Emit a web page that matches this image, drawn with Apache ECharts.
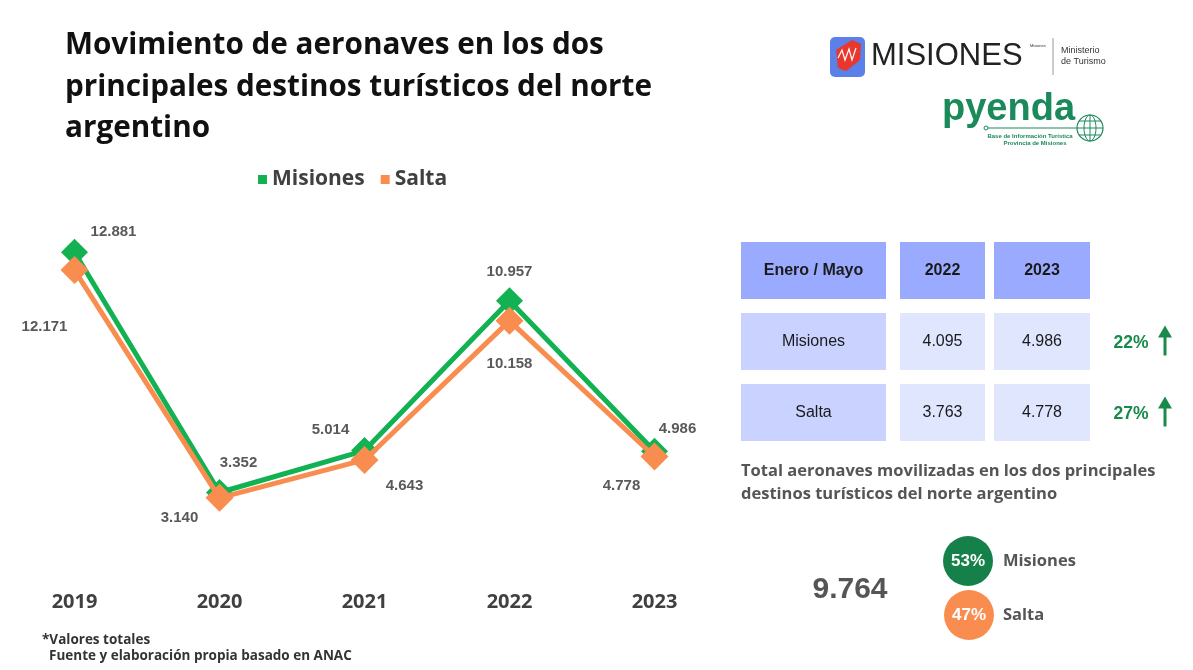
<!DOCTYPE html>
<html>
<head>
<meta charset="utf-8">
<script src="https://cdn.jsdelivr.net/npm/echarts@6/dist/echarts.min.js"></script>
<style>
html,body{margin:0;padding:0;background:#fff;}
#c{width:1193px;height:670px;}
</style>
</head>
<body>
<div id="c"></div>
<script>
// ---- data ----
const years = ['2019', '2020', '2021', '2022', '2023'];
const misiones = [12881, 3352, 5014, 10957, 4986];
const salta = [12171, 3140, 4643, 10158, 4778];
const tableHeader = ['Enero / Mayo', '2022', '2023'];
const tableRows = ['Misiones', 'Salta'];
const table2022 = [4095, 3763];
const table2023 = [4986, 4778];
const tableChange = ['22%', '27%'];
const totalValue = 9764;
const shareLabels = ['Misiones', 'Salta'];
const shareValues = ['53%', '47%'];

// ---- layout (not data) ----
const misionesOffsets = [[39,-20],[19,-30],[-34,-21],[0,-29],[23,-22]];
const saltaOffsets = [[-30,57],[-40,20],[40,26],[0,43],[-33,29]];
const GREEN = '#12B253';
const ORANGE = '#F98D4F';
const DARK = '#404040';

function fmt(v){ return String(v).replace(/\B(?=(\d{3})+(?!\d))/g, '.'); }

const chart = echarts.init(document.getElementById('c'));

function labelled(values, offsets){
  return values.map((v,i)=>({value:v, label:{offset:offsets[i]}}));
}

const graphics = [];
// title
['Movimiento de aeronaves en los dos','principales destinos turísticos del norte','argentino'].forEach((t,i)=>{
  graphics.push({type:'text', left:65, top:31+i*41.5, style:{text:t, font:'bold 29.7px "Open Sans"', fill:'#111'}});
});
// footnote
graphics.push({type:'text', left:42, top:633, style:{text:'*Valores totales', font:'bold 13.5px "Open Sans"', fill:'#333'}});
graphics.push({type:'text', left:49, top:649, style:{text:'Fuente y elaboración propia basado en ANAC', font:'bold 13.5px "Open Sans"', fill:'#333'}});

// table
const colX = [741, 900, 994];
const colW = [145, 85, 96];
const rowY = [242, 313, 384];
const rowH = 57;
tableHeader.forEach((h,c)=>{
  graphics.push({type:'rect', shape:{x:colX[c], y:rowY[0], width:colW[c], height:rowH}, style:{fill:'#9AABFF'}});
  graphics.push({type:'text', x:colX[c]+colW[c]/2, y:rowY[0]+rowH/2, style:{text:h, font:'bold 16px "Liberation Sans"', fill:'#1a1a1a', align:'center', verticalAlign:'middle'}});
});
tableRows.forEach((r,i)=>{
  const y = rowY[i+1];
  const cells = [r, fmt(table2022[i]), fmt(table2023[i])];
  cells.forEach((t,c)=>{
    graphics.push({type:'rect', shape:{x:colX[c], y:y, width:colW[c], height:rowH}, style:{fill: c===0 ? '#CAD3FF' : '#E1E6FF'}});
    graphics.push({type:'text', x:colX[c]+colW[c]/2, y:y+rowH/2, style:{text:t, font:'16px "Liberation Sans"', fill:'#1a1a1a', align:'center', verticalAlign:'middle'}});
  });
  graphics.push({type:'text', x:1131, y:y+rowH/2+2, style:{text:tableChange[i], font:'bold 17.5px "Liberation Sans"', fill:'#188A4A', align:'center', verticalAlign:'middle'}});
  // arrow
  const ay = y + rowH/2;
  graphics.push({type:'line', shape:{x1:1165, y1:ay-6, x2:1165, y2:ay+14}, style:{stroke:'#188A4A', lineWidth:3}});
  graphics.push({type:'polygon', shape:{points:[[1165,ay-16],[1158,ay-4],[1172,ay-4]]}, style:{fill:'#188A4A'}});
});

// total text
graphics.push({type:'text', left:741, top:463, style:{text:'Total aeronaves movilizadas en los dos principales', font:'bold 16.5px "Open Sans"', fill:'#555'}});
graphics.push({type:'text', left:741, top:486, style:{text:'destinos turísticos del norte argentino', font:'bold 16.5px "Open Sans"', fill:'#555'}});
graphics.push({type:'text', x:850, y:590, style:{text:fmt(totalValue), font:'bold 30px "Liberation Sans"', fill:'#555', align:'center', verticalAlign:'middle'}});
const circ = [[968,561,'#15804A'],[969,615,ORANGE]];
shareLabels.forEach((l,i)=>{
  const [cx,cy,col] = circ[i];
  graphics.push({type:'circle', shape:{cx:cx, cy:cy, r:25}, style:{fill:col}});
  graphics.push({type:'text', x:cx, y:cy, style:{text:shareValues[i], font:'bold 17px "Liberation Sans"', fill:'#fff', align:'center', verticalAlign:'middle'}});
  graphics.push({type:'text', x:1003, y:cy, style:{text:l, font:'bold 16.5px "Open Sans"', fill:'#555', verticalAlign:'middle'}});
});

// logos (approximations)
graphics.push({type:'rect', shape:{x:830, y:37, width:35, height:40, r:5}, style:{fill:'#5B80E8'}});
graphics.push({type:'polygon', shape:{points:[[836,50],[852,40],[861,44],[860,60],[846,71],[838,68]]}, style:{fill:'#E8372C'}});
graphics.push({type:'polyline', shape:{points:[[838,58],[842,50],[845,60],[849,49],[852,60],[856,48]]}, style:{stroke:'#fff', lineWidth:1.2, fill:null}});
graphics.push({type:'text', left:871, top:41, style:{text:'MISIONES', font:'31px "Liberation Sans"', fill:'#222'}});
graphics.push({type:'text', left:1030, top:44, style:{text:'Misiones', font:'4px "Liberation Sans"', fill:'#333'}});
graphics.push({type:'line', shape:{x1:1053, y1:38, x2:1053, y2:75}, style:{stroke:'#999', lineWidth:1}});
graphics.push({type:'text', left:1061, top:45, style:{text:'Ministerio\nde Turismo', font:'9px "Liberation Sans"', fill:'#333', lineHeight:11}});
graphics.push({type:'text', left:942, top:91, style:{text:'pyenda', font:'bold 38px "Liberation Sans"', fill:'#1A8A5A'}});
graphics.push({type:'line', shape:{x1:986, y1:128, x2:1077, y2:128}, style:{stroke:'#1A8A5A', lineWidth:1}});
graphics.push({type:'circle', shape:{cx:986, cy:128, r:2}, style:{fill:'#fff', stroke:'#1A8A5A', lineWidth:1}});
graphics.push({type:'circle', shape:{cx:1090, cy:128, r:13}, style:{fill:'none', stroke:'#1A8A5A', lineWidth:1.2}});
graphics.push({type:'ellipse', shape:{cx:1090, cy:128, rx:6, ry:13}, style:{fill:'none', stroke:'#1A8A5A', lineWidth:1}});
graphics.push({type:'line', shape:{x1:1077, y1:128, x2:1103, y2:128}, style:{stroke:'#1A8A5A', lineWidth:1}});
graphics.push({type:'line', shape:{x1:1079, y1:121, x2:1101, y2:121}, style:{stroke:'#1A8A5A', lineWidth:1}});
graphics.push({type:'line', shape:{x1:1079, y1:135, x2:1101, y2:135}, style:{stroke:'#1A8A5A', lineWidth:1}});
graphics.push({type:'line', shape:{x1:1090, y1:115, x2:1090, y2:141}, style:{stroke:'#1A8A5A', lineWidth:1}});
graphics.push({type:'text', x:1030, y:136, style:{text:'Base de Información Turística', font:'bold 6px "Liberation Sans"', fill:'#1A8A5A', align:'center', verticalAlign:'middle'}});
graphics.push({type:'text', x:1035, y:143, style:{text:'Provincia de Misiones', font:'bold 6px "Liberation Sans"', fill:'#1A8A5A', align:'center', verticalAlign:'middle'}});

const labelBase = {show:true, position:'inside', align:'center', verticalAlign:'middle',
  formatter: p => fmt(p.value), fontFamily:'Liberation Sans', fontWeight:'bold', fontSize:15, color:'#595959'};

chart.setOption({
  animation:false,
  backgroundColor:'#fff',
  legend:{
    left:253, top:164, icon:'rect', itemWidth:9, itemHeight:9, itemGap:16,
    textStyle:{fontFamily:'Open Sans', fontWeight:'bold', fontSize:21, color:DARK},
    data:['Misiones','Salta']
  },
  grid:{left:2, width:725, top:224, bottom:93},
  xAxis:{
    type:'category', data:years, boundaryGap:true,
    axisLine:{show:false}, axisTick:{show:false},
    axisLabel:{margin:15, fontFamily:'Open Sans', fontWeight:'bold', fontSize:20, color:DARK}
  },
  yAxis:{type:'value', min:0, max:14000, show:false, splitLine:{show:false}},
  series:[
    {name:'Misiones', type:'line', data:labelled(misiones, misionesOffsets), symbol:'diamond', symbolSize:27,
      lineStyle:{width:5, color:GREEN}, itemStyle:{color:GREEN}, label:labelBase, z:2},
    {name:'Salta', type:'line', data:labelled(salta, saltaOffsets), symbol:'diamond', symbolSize:28,
      lineStyle:{width:5, color:ORANGE}, itemStyle:{color:ORANGE}, label:labelBase, z:3}
  ],
  graphic:graphics
});
</script>
</body>
</html>
